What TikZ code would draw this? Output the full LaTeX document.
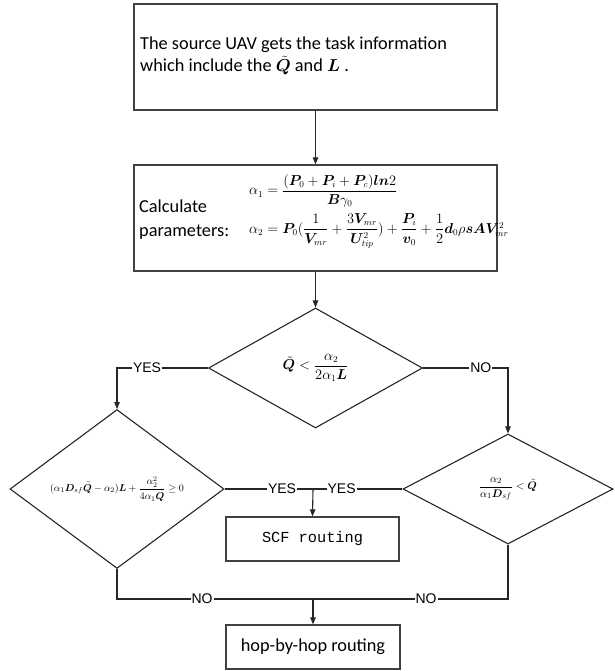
\documentclass[tikz,border=0pt]{standalone}
\usepackage{amsmath,bm}
\usepackage{fontspec}
\setmainfont{Carlito}
\newfontfamily\labfont{Liberation Sans}
\newfontfamily\monofont{Liberation Mono}
\usetikzlibrary{shapes.geometric,arrows.meta}
\begin{document}
\begin{tikzpicture}[x=1pt,y=-1pt,
  every node/.style={inner sep=0pt},
  boxst/.style={draw=black!75,line width=1.3pt,rectangle},
  dia/.style={draw=black!85,line width=1.1pt,diamond},
  conn/.style={draw=black!85,line width=1.1pt},
  arr/.style={conn,-{Triangle[length=7pt,width=5.5pt]}},
  lab/.style={fill=white,inner xsep=1pt,font=\labfont\fontsize{14}{16}\selectfont},
  txt/.style={font=\fontsize{18.3}{21.5}\selectfont},
  frm/.style={font=\fontsize{13.4}{15}\selectfont}]
\useasboundingbox (0,0) rectangle (614,671);
\node[boxst,minimum width=363pt,minimum height=106pt] (b1) at (315.5,57) {};
\node[txt,anchor=west,align=left] (t1) at (140,56) {The source UAV gets the task information\\which include the $\tilde{\bm Q}$ and $\bm L$ .};
\node[boxst,minimum width=363pt,minimum height=106pt] (b2) at (315.5,218) {};
\node[anchor=west,align=left,font=\fontsize{18.3}{24}\selectfont] (t2) at (139,220) {Calculate\\parameters:};
\node[frm,anchor=west] (f1) at (249,191) {$\alpha_1=\dfrac{(\bm P_0+\bm P_i+\bm P_c)\bm{ln}2}{\bm B\gamma_0}$};
\node[frm,anchor=west] (f2) at (249,231) {$\alpha_2=\bm P_0(\dfrac{1}{\bm V_{mr}}+\dfrac{3\bm V_{mr}}{\bm U_{tip}^2})+\dfrac{\bm P_i}{\bm v_0}+\dfrac12\bm d_0\rho \bm s\bm A\bm V_{mr}^2$};
\node[dia,minimum width=214pt,minimum height=120pt] (d1) at (315.5,368) {\fontsize{13.3}{15}\selectfont$\tilde{\bm Q}<\dfrac{\alpha_2}{2\alpha_1\bm L}$};
\node[dia,minimum width=214pt,minimum height=112pt] (d2) at (117,489) {\fontsize{10}{12}\selectfont$(\alpha_1\bm D_{sf}\tilde{\bm Q}-\alpha_2)\bm L+\dfrac{\alpha_2^2}{4\alpha_1\tilde{\bm Q}}\ge 0$};
\node[dia,minimum width=210pt,minimum height=110pt] (d3) at (508,489) {\fontsize{11}{13}\selectfont$\dfrac{\alpha_2}{\alpha_1\bm D_{sf}}<\tilde{\bm Q}$};
\node[boxst,minimum width=173pt,minimum height=44pt,font=\monofont\fontsize{15.3}{17}\selectfont] (scf) at (312.5,539) {SCF routing};
\node[boxst,minimum width=174pt,minimum height=44pt,txt] (hop) at (313,647) {hop-by-hop routing};
\coordinate (jy) at (313,489);
\coordinate (jn) at (313,599);
\draw[arr] (b1.south) -- (b2.north);
\draw[arr] (b2.south) -- (d1.north);
\draw[arr] (d1.west) -| node[lab,pos=0.335]{YES} (d2.north);
\draw[arr] (d1.east) -| node[lab,pos=0.34]{NO} (d3.north);
\draw[conn] (d2.east) -- node[lab,pos=0.65]{YES} (jy);
\draw[conn] (d3.west) -- node[lab,pos=0.68]{YES} (jy);
\draw[arr] (jy) -- (scf.north);
\draw[conn] (d2.south) |- node[lab,pos=0.717]{NO} (jn);
\draw[conn] (d3.south) |- node[lab,pos=0.71]{NO} (jn);
\draw[arr] (jn) -- (hop.north);
\end{tikzpicture}
\end{document}
